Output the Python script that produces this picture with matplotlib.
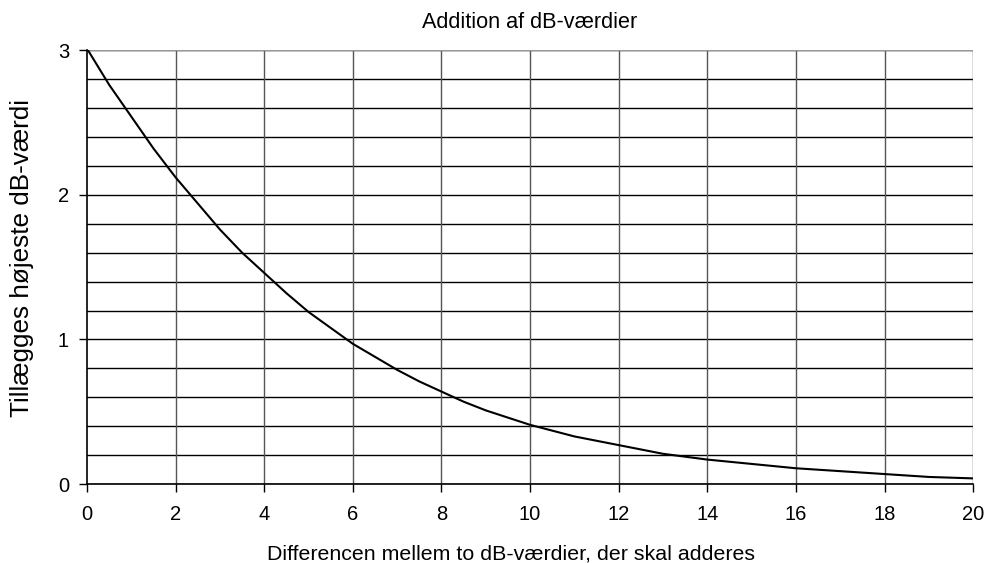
import numpy as np
from matplotlib import pyplot as plt

plt.rcParams['font.family'] = ['Liberation Sans', 'DejaVu Sans']

# difference between two dB levels and the amount added to the highest one
diff = [0, 0.5, 1, 1.5, 2, 2.5, 3, 3.5, 4, 4.5, 5, 5.5, 6, 6.5, 7, 7.5, 8, 8.5, 9, 9.5,
        10, 11, 12, 13, 14, 15, 16, 17, 18, 19, 20]
added = [3.01, 2.76, 2.54, 2.32, 2.12, 1.94, 1.76, 1.60, 1.46, 1.32, 1.19, 1.08,
         0.97, 0.88, 0.79, 0.71, 0.64, 0.57, 0.51, 0.46,
         0.41, 0.33, 0.27, 0.21, 0.17, 0.14, 0.11, 0.09, 0.07, 0.05, 0.04]

x_ticks = np.arange(0, 21, 2)
y_ticks = [0, 1, 2, 3]
y_minor = np.arange(0, 3.01, 0.2)

fig = plt.figure(figsize=(9.89, 5.63), dpi=100)
ax = fig.add_axes([0.088, 0.140, 0.896, 0.771])

# grid
for yv in y_minor:
    ax.axhline(yv, color='black', lw=1.0, zorder=1)
for xv in x_ticks[1:]:
    ax.axvline(xv, color='#555555', lw=1.0, zorder=1)
ax.axhline(3, color='#999999', lw=1.0, zorder=1)

ax.plot(diff, added, color='black', lw=1.5, zorder=3)

ax.set_xlim(0, 20), ax.set_ylim(0, 3)
ax.set_xticks(x_ticks), ax.set_yticks(y_ticks)
ax.tick_params(axis='both', direction='out', length=6, width=1, labelsize=14.5)
ax.tick_params(axis='x', pad=9)
ax.tick_params(axis='y', pad=7)

for s in ['top', 'right']:
    ax.spines[s].set_visible(False)
ax.spines['left'].set_linewidth(1.2)
ax.spines['bottom'].set_linewidth(1.2)

ax.set_title('Addition af dB-værdier', fontsize=15.6, pad=16)
ax.set_xlabel('Differencen mellem to dB-værdier, der skal adderes', fontsize=15.4)
ax.set_ylabel('Tillægges højeste dB-værdi', fontsize=18.8)
# labels sit slightly off centre in the original
ax.xaxis.set_label_coords(0.479, -0.14)
ax.yaxis.set_label_coords(-0.060, 0.52)

plt.savefig('out.png', dpi=100)
